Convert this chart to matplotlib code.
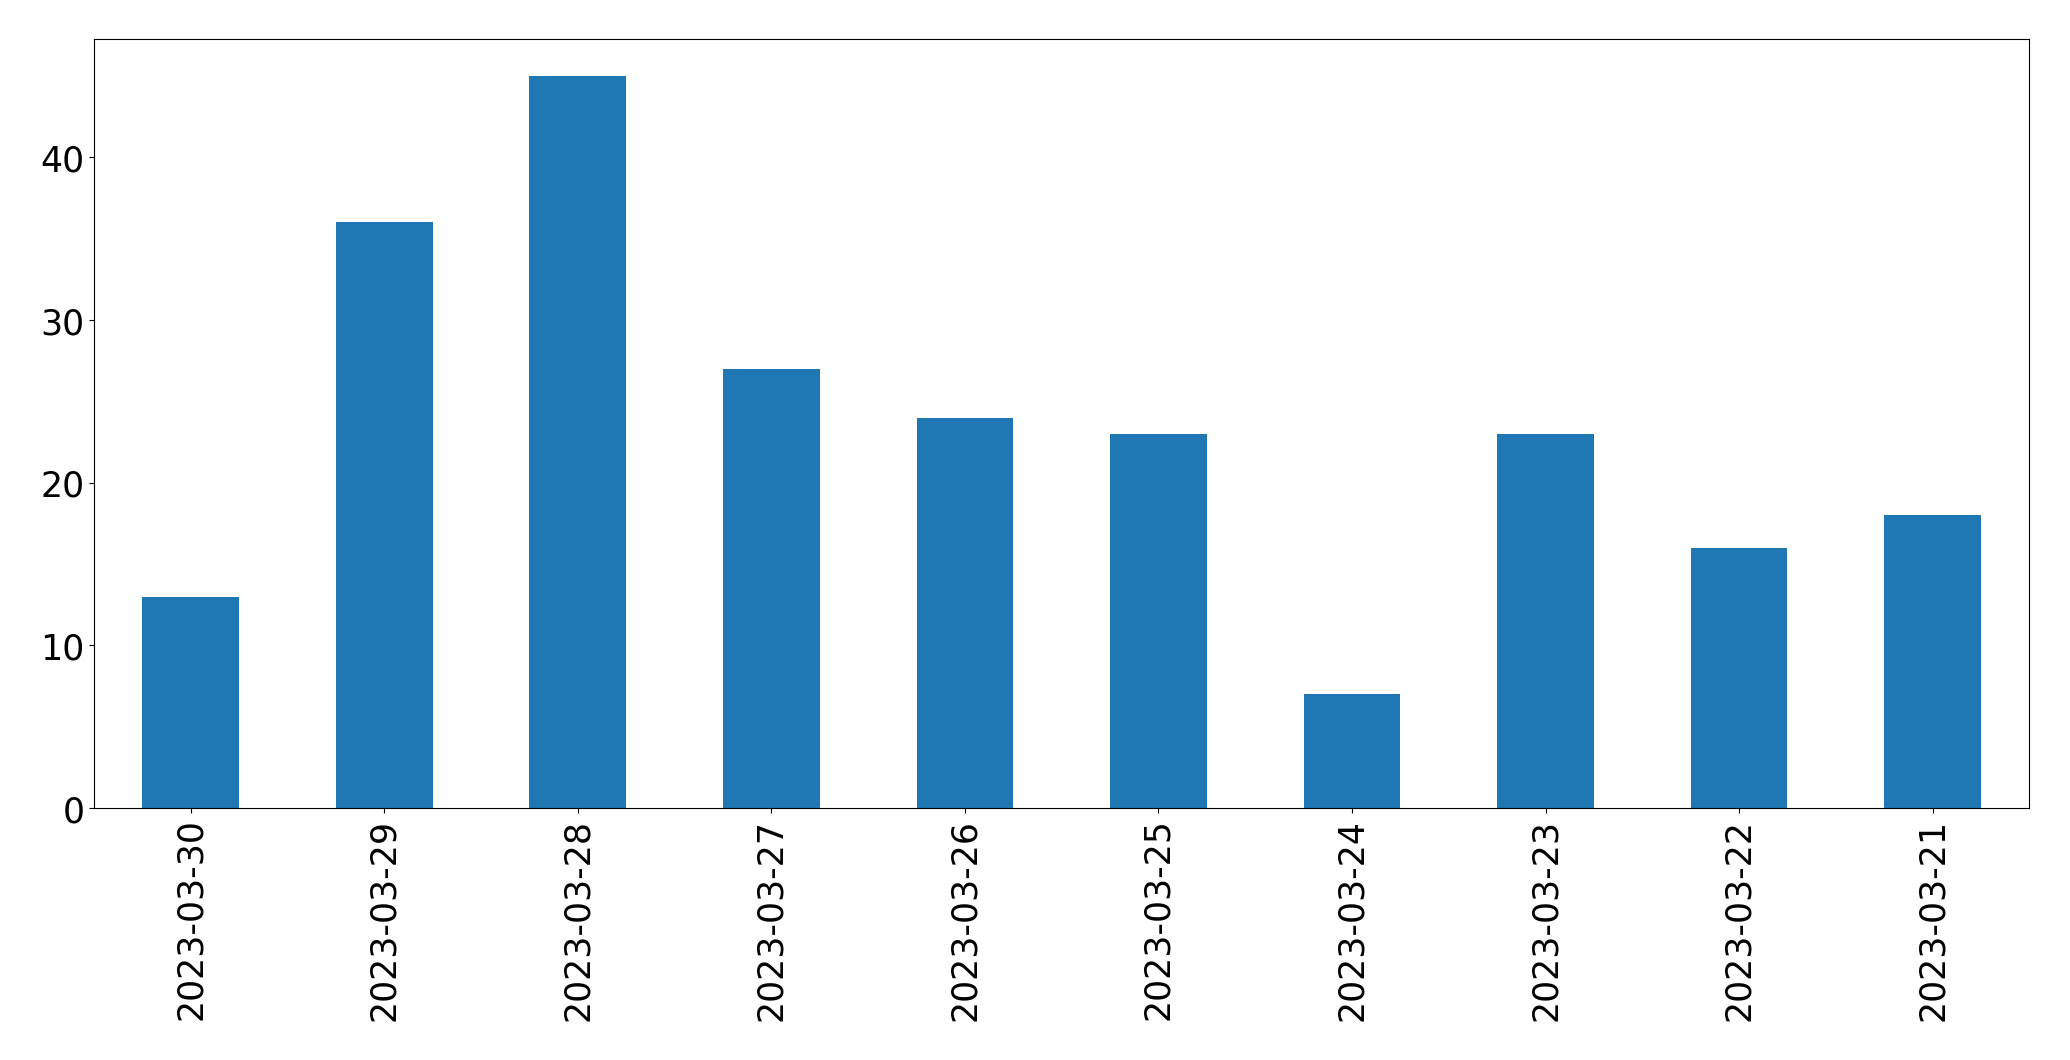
import matplotlib
matplotlib.use('Agg')
import matplotlib.pyplot as plt
import pandas as pd

dates = ['2023-03-30', '2023-03-29', '2023-03-28', '2023-03-27', '2023-03-26',
         '2023-03-25', '2023-03-24', '2023-03-23', '2023-03-22', '2023-03-21']
counts = [13, 36, 45, 27, 24, 23, 7, 23, 16, 18]

s = pd.Series(counts, index=dates)

# slightly under the pixel size so rounding lands on 2071x1061
fig = plt.figure(figsize=(20.708, 10.608), dpi=100)
ax = fig.add_axes([0.0454, 0.2375, 0.9346, 0.7248])
s.plot(kind='bar', ax=ax, color='#1f77b4')
ax.tick_params(axis='both', labelsize=25)
plt.savefig('out.png', dpi=100)
